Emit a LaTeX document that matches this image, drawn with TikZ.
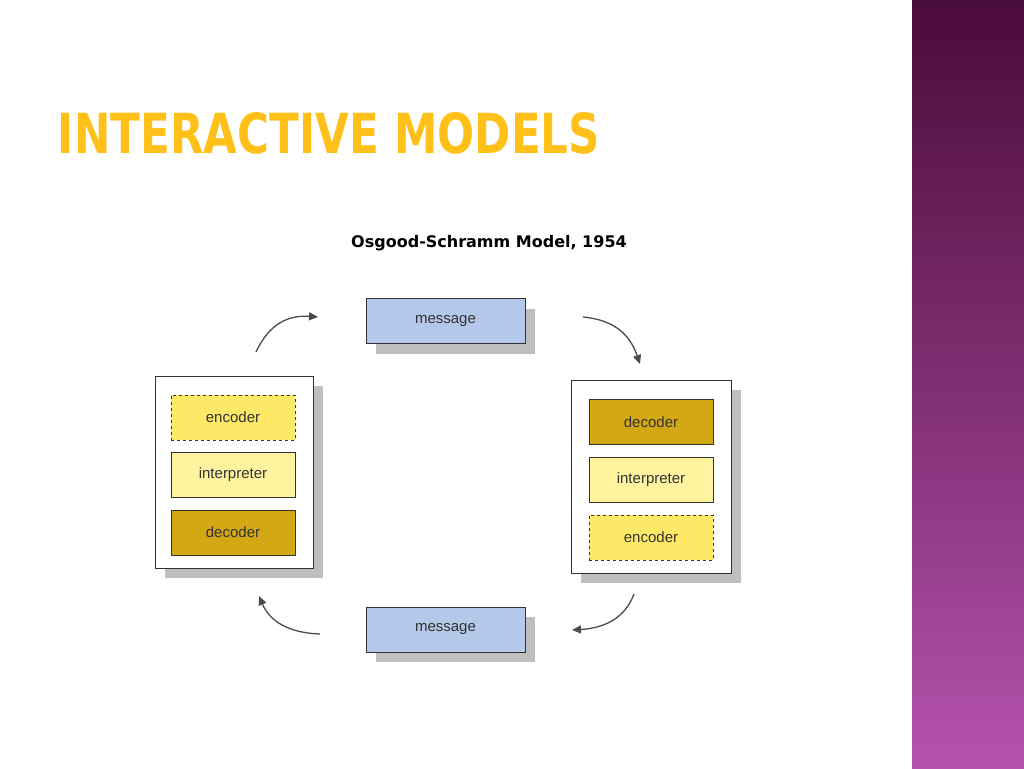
\documentclass[tikz,border=0pt]{standalone}
\usepackage{fontspec}
\setmainfont{Liberation Sans}
\newfontfamily\titlefont{DejaVu Sans}
\usetikzlibrary{arrows.meta,shadows}
\definecolor{msg}{HTML}{B4C8EA}
\definecolor{enc}{HTML}{FFE866}
\definecolor{intp}{HTML}{FFF3A0}
\definecolor{dec}{HTML}{D4A814}
\definecolor{purtop}{HTML}{4A0C38}
\definecolor{purbot}{HTML}{B552AE}
\begin{document}
\begin{tikzpicture}[x=1pt,y=-1pt,
  shad/.style={drop shadow={shadow xshift=10pt,shadow yshift=-10pt,fill=black!25,opacity=1}},
  outer/.style={draw=black!80,fill=white,line width=1pt,minimum width=158pt,minimum height=192pt,shad},
  inner/.style={draw=black!80,line width=1pt,minimum width=124pt,minimum height=45pt,font=\fontsize{15}{18}\selectfont,text=black!80},
  msgbox/.style={inner,fill=msg,minimum width=159pt,shad},
  arr/.style={-{Triangle[length=9pt,width=8pt]},line width=1.3pt,draw=black!70}]
\useasboundingbox (0,0) rectangle (1024,768);
\fill[white] (0,0) rectangle (1024,768);
\shade[top color=purtop,bottom color=purbot] (912,0) rectangle (1024,768);
\node (title) at (329,133) {\resizebox{542pt}{41pt}{\titlefont\bfseries\color{orange!55!yellow!90!white}INTERACTIVE MODELS}};
\node[font=\fontsize{16}{19}\selectfont\titlefont\bfseries] (sub) at (489,243) {Osgood-Schramm Model, 1954};
\node[outer] (L) at (234,472) {};
\node[inner,fill=enc,dashed] (Lenc) at (233,417.5) {encoder};
\node[inner,fill=intp] (Lint) at (233,475) {interpreter};
\node[inner,fill=dec] (Ldec) at (233,532.5) {decoder};
\node[outer,minimum width=160pt,minimum height=193pt] (R) at (651,476.5) {};
\node[inner,fill=dec] (Rdec) at (651,422) {decoder};
\node[inner,fill=intp] (Rint) at (651,479.5) {interpreter};
\node[inner,fill=enc,dashed] (Renc) at (651,537.5) {encoder};
\node[msgbox] (M1) at (445.5,321) {message};
\node[msgbox] (M2) at (445.5,629.5) {message};
\coordinate (a1) at (256,352); \coordinate (b1) at (318,317);
\coordinate (a2) at (583,317); \coordinate (b2) at (640,364);
\coordinate (a3) at (634,594); \coordinate (b3) at (572,630);
\coordinate (a4) at (320,634); \coordinate (b4) at (259,596);
\draw[arr] (a1) .. controls (270,322) and (290,315) .. (b1);
\draw[arr] (a2) .. controls (615,320) and (630,335) .. (b2);
\draw[arr] (a3) .. controls (625,618) and (605,628) .. (b3);
\draw[arr] (a4) .. controls (290,633) and (270,622) .. (b4);
\end{tikzpicture}
\end{document}
